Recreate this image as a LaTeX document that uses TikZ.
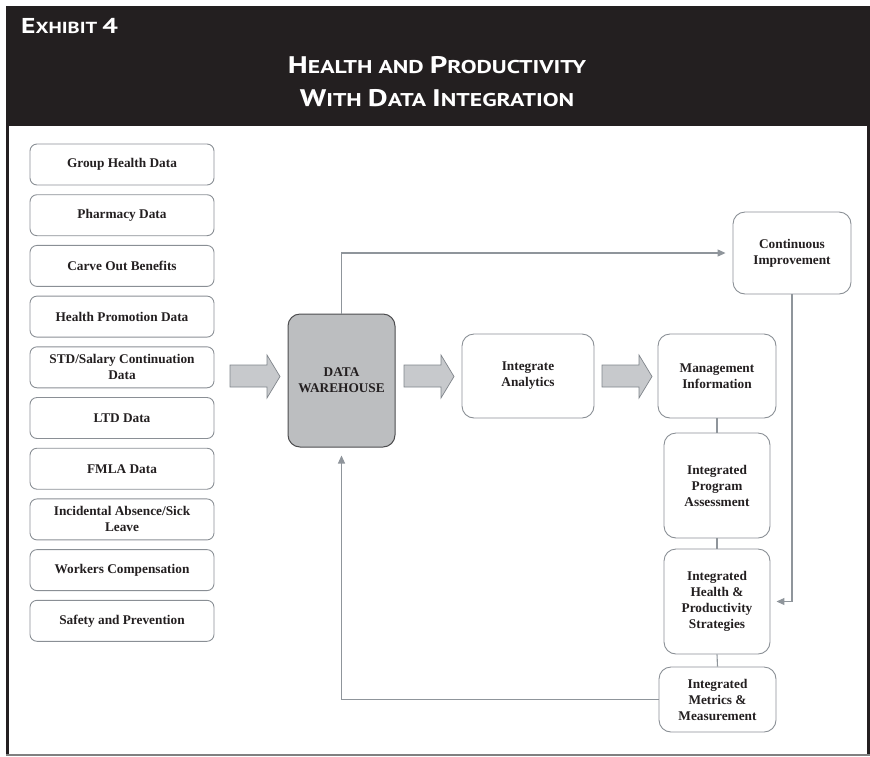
\documentclass[tikz,border=0pt]{standalone}
\usepackage{fontspec}
\setmainfont{Liberation Serif}
\newfontfamily\hdrfont{PT Sans}[FakeStretch=1.28]
\usetikzlibrary{arrows.meta}
\definecolor{hdrblack}{HTML}{231F20}
\definecolor{boxline}{HTML}{8A8F95}
\definecolor{conline}{HTML}{8F959B}
\definecolor{fatfill}{HTML}{C7C9CC}
\definecolor{fatline}{HTML}{80858B}
\definecolor{dwfill}{HTML}{BCBEC0}
\definecolor{dwline}{HTML}{4D4D4F}
\definecolor{txt}{HTML}{231F20}
\newcommand\hBig{\fontsize{24}{24}\selectfont}
\newcommand\hSm{\fontsize{18.5}{18.5}\selectfont}
\newcommand\eBig{\fontsize{21.5}{21.5}\selectfont}
\newcommand\eSm{\fontsize{16}{16}\selectfont}
\tikzset{
  boxtext/.style={text=txt, align=center, font=\bfseries\fontsize{13.3}{16}\selectfont, inner sep=0pt},
  srcbox/.style={boxtext, draw=boxline, line width=0.9pt, rounded corners=7pt, minimum width=184pt, minimum height=41pt},
  flowbox/.style={boxtext, draw=boxline, line width=0.9pt, rounded corners=12pt},
  dwbox/.style={boxtext, draw=dwline, fill=dwfill, line width=1pt, rounded corners=12pt, minimum width=107pt, minimum height=133pt},
  fatarrow/.style={fill=fatfill, draw=fatline, line width=0.7pt},
  conn/.style={draw=conline, line width=1.1pt},
  connarrow/.style={conn, -{Triangle[length=8pt,width=7pt]}},
  hdrtext/.style={text=white, font=\hdrfont\bfseries, inner sep=0pt}
}
\begin{document}
\begin{tikzpicture}[x=1pt,y=-1pt]
\useasboundingbox (0,0) rectangle (870,756);
% header and frame
\fill[hdrblack] (6,6) rectangle (870,126);
\draw[hdrblack, line width=2.5pt] (7.5,126) -- (7.5,755);
\draw[hdrblack, line width=3pt] (868.5,126) -- (868.5,756);
\draw[gray, line width=2pt] (6,755) -- (870,755);
\node[hdrtext, anchor=base west] (exh) at (21,33) {{\eBig E}{\eSm XHIBIT }{\eBig 4}};
\node[hdrtext, anchor=base] (t1) at (437,73) {{\hBig H}{\hSm EALTH AND }{\hBig P}{\hSm RODUCTIVITY}};
\node[hdrtext, anchor=base] (t2) at (437,106) {{\hBig W}{\hSm ITH }{\hBig D}{\hSm ATA }{\hBig I}{\hSm NTEGRATION}};
% source boxes
\node[srcbox] (s1) at (122,164.5) {Group Health Data};
\node[srcbox] (s2) at (122,215.2) {Pharmacy Data};
\node[srcbox] (s3) at (122,265.9) {Carve Out Benefits};
\node[srcbox] (s4) at (122,316.6) {Health Promotion Data};
\node[srcbox] (s5) at (122,367.3) {STD/Salary Continuation\\Data};
\node[srcbox] (s6) at (122,418.0) {LTD Data};
\node[srcbox] (s7) at (122,468.7) {FMLA Data};
\node[srcbox] (s8) at (122,519.4) {Incidental Absence/Sick\\Leave};
\node[srcbox] (s9) at (122,570.1) {Workers Compensation};
\node[srcbox] (s10) at (122,620.8) {Safety and Prevention};
% main flow
\node[dwbox] (dw) at (341.5,380.5) {DATA\\WAREHOUSE};
\node[flowbox, minimum width=132pt, minimum height=84pt] (ia) at (528,376) {Integrate\\Analytics};
\node[flowbox, minimum width=118pt, minimum height=84pt] (mi) at (717,376) {Management\\Information};
\node[flowbox, minimum width=118pt, minimum height=82pt] (ci) at (792,253) {Continuous\\Improvement};
\node[flowbox, minimum width=106pt, minimum height=105pt] (ipa) at (717,485.5) {Integrated\\Program\\Assessment};
\node[flowbox, minimum width=106pt, minimum height=105pt] (ihps) at (717,601.5) {Integrated\\Health \&\\Productivity\\Strategies};
\node[flowbox, minimum width=117pt, minimum height=65pt] (imm) at (717.5,699.5) {Integrated\\Metrics \&\\Measurement};
% fat arrows
\foreach \xa in {230,404,602}{
  \draw[fatarrow] (\xa,365) -- (\xa+37,365) -- (\xa+37,355) -- (\xa+50,376.5) -- (\xa+37,398) -- (\xa+37,387) -- (\xa,387) -- cycle;
}
% connectors
\draw[connarrow, shorten >=7pt] (dw.north) |- (ci.west);
\coordinate (turn) at (ci.south |- ihps.east);
\draw[connarrow, shorten >=6pt] (ci.south) -- (turn) -- (ihps.east);
\draw[conn] (mi.south) -- (ipa.north);
\draw[conn] (ipa.south) -- (ihps.north);
\draw[conn] (ihps.south) -- (imm.north);
\draw[connarrow, shorten >=8pt] (imm.west) -| (dw.south);
\end{tikzpicture}
\end{document}
